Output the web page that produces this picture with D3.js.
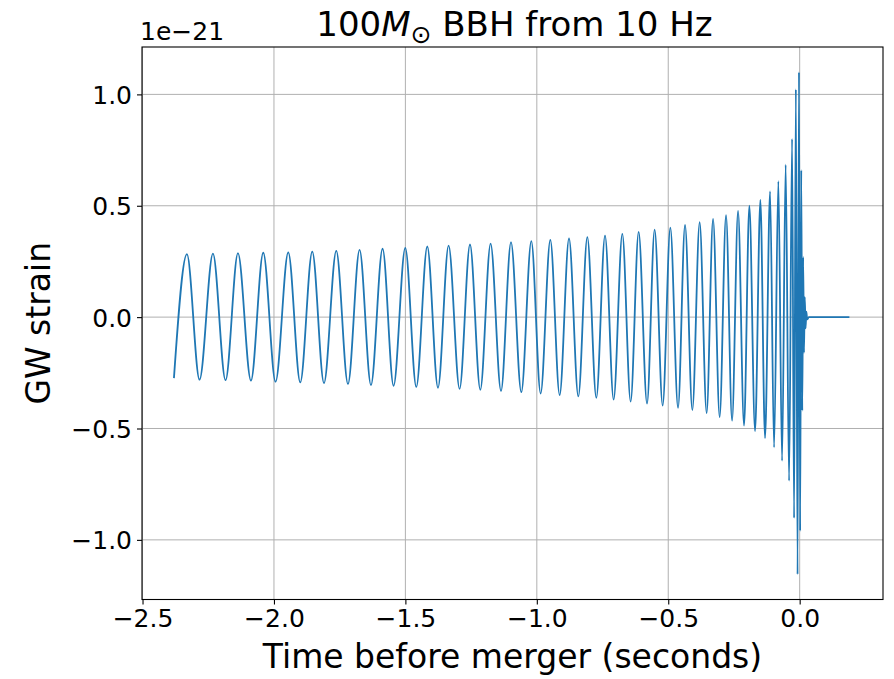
<!DOCTYPE html>
<html>
<head>
<meta charset="utf-8">
<script src="https://cdn.jsdelivr.net/npm/d3@7"></script>
<style>
  html, body { margin: 0; padding: 0; background: #fff; }
  svg { display: block; font-family: "DejaVu Sans", sans-serif; }
</style>
</head>
<body>
<svg id="chart" width="894" height="679"></svg>
<script>
// Waveform turning points (time in seconds, strain in units of 1e-21)
const extremaTime = [
  -2.3805, -2.3311, -2.2831, -2.2321, -2.1842, -2.1370, -2.0875, -2.0407, -1.9939, -1.9456,
  -1.8999, -1.8543, -1.8097, -1.7629, -1.7184, -1.6743, -1.6309, -1.5868, -1.5449, -1.5004,
  -1.4585, -1.4167, -1.3760, -1.3356, -1.2938, -1.2542, -1.2150, -1.1758, -1.1362, -1.0982,
  -1.0590, -1.0209, -0.9855, -0.9486, -0.9132, -0.8775, -0.8421, -0.8078, -0.7736, -0.7405,
  -0.7078, -0.6747, -0.6431, -0.6126, -0.5807, -0.5518, -0.5213, -0.4920, -0.4627, -0.4361,
  -0.4083, -0.3805, -0.3539, -0.3295, -0.3044, -0.2801, -0.2572, -0.2344, -0.2116, -0.1914,
  -0.1697, -0.1495, -0.1317, -0.1126, -0.0974, -0.0811, -0.0670, -0.0533, -0.0403, -0.0289,
  -0.0213, -0.0145, -0.0080, -0.0027, 0.0019, 0.0061, 0.0099, 0.0133, 0.0164, 0.0194,
  0.0225, 0.0255, 0.0285, 0.0350, 0.1891
];
const extremaStrain = [
  -0.274, 0.283, -0.281, 0.285, -0.283, 0.287, -0.285, 0.289, -0.290, 0.291,
  -0.293, 0.294, -0.296, 0.297, -0.300, 0.302, -0.305, 0.307, -0.308, 0.311,
  -0.313, 0.317, -0.317, 0.321, -0.322, 0.326, -0.326, 0.330, -0.331, 0.337,
  -0.337, 0.341, -0.343, 0.347, -0.350, 0.353, -0.356, 0.359, -0.362, 0.366,
  -0.370, 0.374, -0.379, 0.383, -0.388, 0.393, -0.397, 0.402, -0.407, 0.414,
  -0.417, 0.426, -0.431, 0.441, -0.449, 0.458, -0.465, 0.477, -0.487, 0.501,
  -0.512, 0.526, -0.543, 0.564, -0.585, 0.610, -0.645, 0.684, -0.735, 0.800,
  -0.902, 1.023, -1.155, 1.100, -0.960, 0.660, -0.420, 0.270, -0.160, 0.090,
  -0.050, 0.025, -0.010, 0.000, 0.000
];
const xTicks = [-2.5, -2.0, -1.5, -1.0, -0.5, 0.0];
const yTicks = [-1.0, -0.5, 0.0, 0.5, 1.0];
const xDomain = [-2.502, 0.317];
const offsetLabel = "1e\u221221";
const xLabel = "Time before merger (seconds)";
const yLabel = "GW strain";

const data = extremaTime.map((t, i) => ({ t, h: extremaStrain[i] }));

const plot = { left: 142, top: 47, right: 883, bottom: 599.5 };
const svg = d3.select("#chart");

const x = d3.scaleLinear().domain(xDomain).range([plot.left, plot.right]);
const yMin = d3.min(extremaStrain), yMax = d3.max(extremaStrain);
const yPad = (yMax - yMin) * 0.05;
const y = d3.scaleLinear().domain([yMin - yPad, yMax + yPad]).range([plot.bottom, plot.top]);

const fmt = v => d3.format(".1f")(v).replace("-", "\u2212");

// grid
const grid = svg.append("g").attr("stroke", "#b0b0b0").attr("stroke-width", 1);
grid.selectAll("line.gx").data(xTicks).join("line")
  .attr("x1", d => x(d)).attr("x2", d => x(d))
  .attr("y1", plot.top).attr("y2", plot.bottom);
grid.selectAll("line.gy").data(yTicks).join("line")
  .attr("x1", plot.left).attr("x2", plot.right)
  .attr("y1", d => y(d)).attr("y2", d => y(d));

// clip
svg.append("clipPath").attr("id", "clip").append("rect")
  .attr("x", plot.left).attr("y", plot.top)
  .attr("width", plot.right - plot.left).attr("height", plot.bottom - plot.top);

// waveform
const line = d3.line().x(d => x(d.t)).y(d => y(d.h)).curve(d3.curveMonotoneX);
svg.append("path").datum(data)
  .attr("clip-path", "url(#clip)")
  .attr("fill", "none").attr("stroke", "#1f77b4").attr("stroke-width", 1.8)
  .attr("stroke-linejoin", "round")
  .attr("d", line);

// frame
svg.append("rect")
  .attr("x", plot.left).attr("y", plot.top)
  .attr("width", plot.right - plot.left).attr("height", plot.bottom - plot.top)
  .attr("fill", "none").attr("stroke", "#000").attr("stroke-width", 1.1);

// axes
const xAxis = d3.axisBottom(x).tickValues(xTicks).tickFormat(fmt).tickSize(5).tickPadding(5);
const gx = svg.append("g").attr("transform", `translate(0,${plot.bottom})`).call(xAxis);
const yAxis = d3.axisLeft(y).tickValues(yTicks).tickFormat(fmt).tickSize(5).tickPadding(5);
const gy = svg.append("g").attr("transform", `translate(${plot.left},0)`).call(yAxis);
[gx, gy].forEach(g => {
  g.select(".domain").remove();
  g.selectAll(".tick line").attr("stroke", "#000").attr("stroke-width", 1.1);
  g.selectAll(".tick text").attr("fill", "#000")
    .style("font-family", "'DejaVu Sans', sans-serif").style("font-size", "25px");
});
gx.selectAll(".tick text").attr("dy", "0.71em");
gy.selectAll(".tick text").attr("dy", "0.36em");

// offset text
svg.append("text").attr("x", plot.left - 2).attr("y", 40)
  .style("font-size", "25px").attr("fill", "#000").text(offsetLabel);

// title
const title = svg.append("text").attr("x", (plot.left + plot.right) / 2 + 2).attr("y", 36)
  .attr("text-anchor", "middle").style("font-size", "34px").attr("fill", "#000");
title.append("tspan").text("100");
title.append("tspan").style("font-style", "italic").text("M");
title.append("tspan").attr("dy", 7).style("font-size", "25px").text("\u2299");
title.append("tspan").attr("dy", -7).text(" BBH from 10 Hz");

// axis labels
svg.append("text").attr("x", (plot.left + plot.right) / 2).attr("y", 668)
  .attr("text-anchor", "middle").style("font-size", "33px").attr("fill", "#000").text(xLabel);
svg.append("text").attr("transform", `translate(50,${(plot.top + plot.bottom) / 2}) rotate(-90)`)
  .attr("text-anchor", "middle").style("font-size", "33px").attr("fill", "#000").text(yLabel);
</script>
</body>
</html>
